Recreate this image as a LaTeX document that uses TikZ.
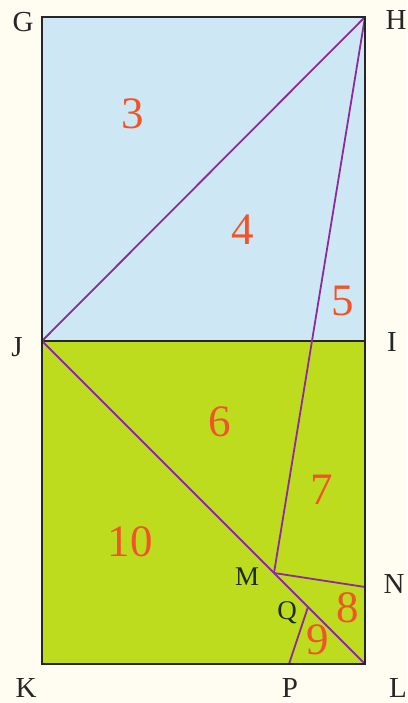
\documentclass[tikz,border=0pt]{standalone}
\usepackage{fontspec}
\setmainfont{Liberation Serif}
\definecolor{bg}{HTML}{FFFDF2}
\definecolor{skyb}{HTML}{CDE8F4}
\definecolor{lime}{HTML}{BEDC1E}
\definecolor{purp}{HTML}{8E2A9C}
\definecolor{numc}{HTML}{F2542A}
\definecolor{labc}{HTML}{262626}
\definecolor{labm}{HTML}{1E2A12}
\begin{document}
\begin{tikzpicture}[x=1pt,y=-1pt,
  seg/.style={draw=purp,line width=1.8pt},
  frame/.style={draw=black!85,line width=1.8pt},
  lab/.style={text=labc,inner sep=0pt,font=\fontsize{29}{29}\selectfont},
  slab/.style={text=labm,inner sep=0pt,font=\fontsize{27}{27}\selectfont},
  num/.style={text=numc,inner sep=0pt,font=\fontsize{45}{45}\selectfont}]
\fill[bg] (0,0) rectangle (407,703);
\useasboundingbox (0,0) rectangle (407,703);
\coordinate (G) at (42,17);
\coordinate (H) at (365,17);
\coordinate (I) at (365,341);
\coordinate (J) at (42,341);
\coordinate (K) at (42,664);
\coordinate (L) at (365,664);
\coordinate (M) at (274,573);
\coordinate (N) at (365,587);
\coordinate (Q) at (308,607);
\coordinate (P) at (289,664);
\fill[skyb] (G) rectangle (I);
\fill[lime] (J) rectangle (L);
\draw[frame] (J) -- (I);
\draw[seg] (J) -- (H);
\draw[seg] (J) -- (L);
\draw[seg] (H) -- (M);
\draw[seg] (M) -- (N);
\draw[seg] (Q) -- (P);
\draw[frame] (G) rectangle (L);
\node[lab] (tG) at (23,22) {G};
\node[lab] (tH) at (396,20) {H};
\node[lab] (tJ) at (17,347) {J};
\node[lab] (tI) at (392,342) {I};
\node[lab] (tK) at (26,688) {K};
\node[lab] (tP) at (290,688) {P};
\node[lab] (tL) at (398,688) {L};
\node[lab] (tN) at (394,584) {N};
\node[slab] (tM) at (247,577) {M};
\node[slab] (tQ) at (287,613) {Q};
\node[num] (n3) at (133,114) {3};
\node[num] (n4) at (243,230) {4};
\node[num] (n5) at (343,301) {5};
\node[num] (n6) at (220,422) {6};
\node[num] (n7) at (322,490) {7};
\node[num] (n10) at (130,542) {10};
\node[num] (n8) at (348,608) {8};
\node[num] (n9) at (318,640) {9};
\end{tikzpicture}
\end{document}
